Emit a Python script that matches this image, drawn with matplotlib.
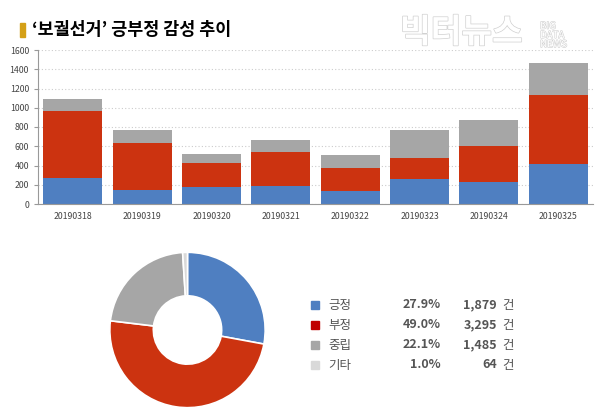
import matplotlib.pyplot as plt
import matplotlib.patheffects as pe

plt.rcParams['font.family'] = ['Noto Sans CJK KR', 'DejaVu Sans']

dates = ['20190318', '20190319', '20190320', '20190321',
         '20190322', '20190323', '20190324', '20190325']
positive = [275, 146, 177, 184, 132, 261, 230, 417]
negative = [690, 484, 247, 359, 247, 212, 375, 717]
neutral = [130, 142, 98, 125, 129, 296, 272, 334]

labels = ['긍정', '부정', '중립', '기타']
shares = [27.9, 49.0, 22.1, 1.0]
counts = [1879, 3295, 1485, 64]

blue = '#4f7fc1'
red = '#cc3310'
gray = '#a6a6a6'
light = '#d9d9d9'
txt = '#555555'

fig = plt.figure(figsize=(6, 4.18), dpi=100)

# title
fig.patches.append(plt.Rectangle((20 / 600, 1 - 37 / 418), 5 / 600, 14 / 418,
                                 transform=fig.transFigure, color='#d4a017'))
fig.text(32 / 600, 1 - 30 / 418, '‘보궐선거’ 긍부정 감성 추이', fontsize=12.5,
         fontweight='bold', va='center', ha='left')

# watermark
fig.text(400 / 600, 1 - 33 / 418, '빅터뉴스', fontsize=24, fontweight='bold',
         color='white', va='center', ha='left',
         path_effects=[pe.withStroke(linewidth=1.0, foreground='#d0d0d0')])
fig.text(540 / 600, 1 - 35 / 418, 'BIG\nDATA\nNEWS', fontsize=7, color='white',
         va='center', ha='left', linespacing=0.9,
         path_effects=[pe.withStroke(linewidth=0.8, foreground='#d0d0d0')])

# stacked bars
ax = fig.add_axes([38 / 600, 1 - 204 / 418, 555 / 600, 154 / 418])
x = range(len(dates))
bottom2 = [p + n for p, n in zip(positive, negative)]
ax.bar(x, positive, width=0.85, color=blue, zorder=2)
ax.bar(x, negative, width=0.85, bottom=positive, color=red, zorder=2)
ax.bar(x, neutral, width=0.85, bottom=bottom2, color=gray, zorder=2)
ax.set_xlim(-0.5, len(dates) - 0.5)
ax.set_ylim(0, 1600)
ax.set_yticks(range(0, 1601, 200))
ax.set_xticks(list(x))
ax.set_xticklabels(dates)
ax.tick_params(axis='both', labelsize=6.3, colors='#444444', length=0)
ax.tick_params(axis='y', length=3, color='#999999')
ax.tick_params(axis='x', pad=6)
ax.yaxis.grid(True, linestyle=(0, (1, 2)), color='#cccccc', linewidth=0.8, zorder=0)
for s in ['top', 'right']:
    ax.spines[s].set_visible(False)
ax.spines['left'].set_color('#999999')
ax.spines['bottom'].set_color('#999999')

# donut
ax2 = fig.add_axes([(187.5 - 80) / 600, 1 - (330 + 80) / 418, 160 / 600, 160 / 418])
ax2.pie(shares, colors=[blue, red, gray, light], startangle=90, counterclock=False,
        radius=1, wedgeprops=dict(width=0.56, edgecolor='white', linewidth=1.2))
ax2.set_xlim(-1.03, 1.03)
ax2.set_ylim(-1.03, 1.03)
ax2.set_aspect('equal')

# legend table
colors_leg = [blue, '#c00000', gray, light]
for i, (lab, sh, c) in enumerate(zip(labels, shares, counts)):
    y = 1 - (305 + 20 * i) / 418
    fig.patches.append(plt.Rectangle((311 / 600, y - 4 / 418), 8 / 600, 8 / 418,
                                     transform=fig.transFigure, color=colors_leg[i]))
    fig.text(328 / 600, y, lab, fontsize=9, color=txt, va='center', ha='left')
    fig.text(441 / 600, y, f'{sh:.1f}%', fontsize=9, color=txt, va='center',
             ha='right', fontweight='bold')
    fig.text(497 / 600, y, f'{c:,}', fontsize=9, color=txt, va='center',
             ha='right', fontweight='bold')
    fig.text(502 / 600, y, '건', fontsize=9, color=txt, va='center', ha='left')

fig.savefig('out.png', dpi=100)
